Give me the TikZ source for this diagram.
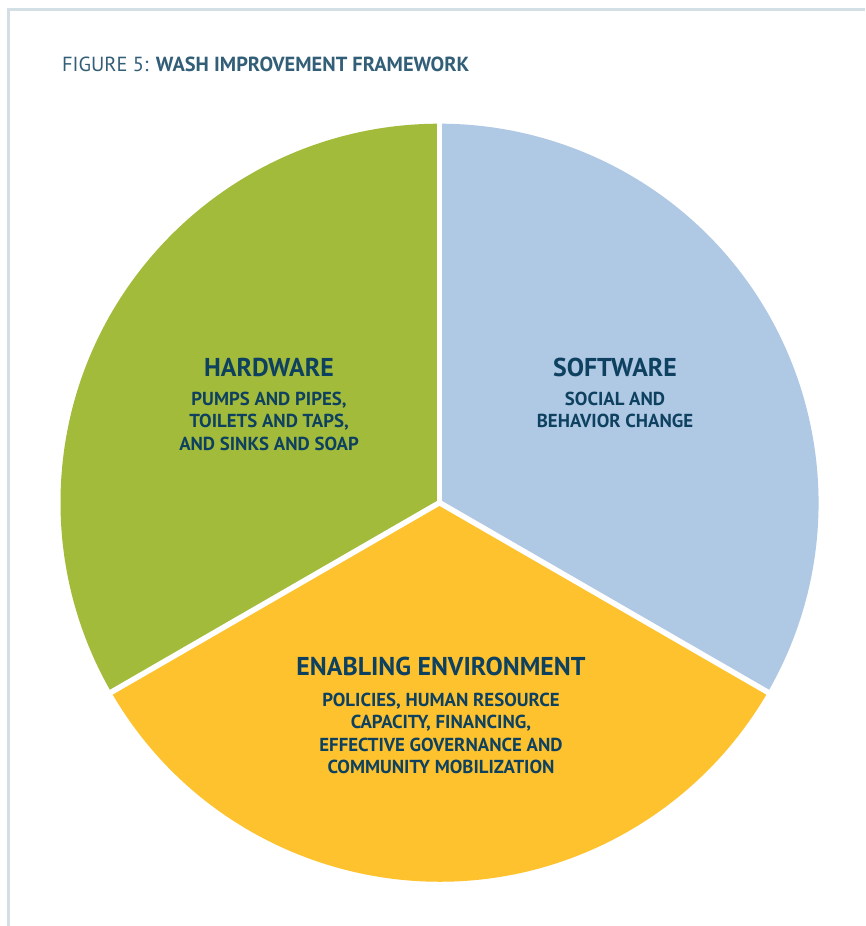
\documentclass[tikz,border=0pt]{standalone}
\usepackage{fontspec}
\setmainfont{PT Sans}
\definecolor{hwgreen}{HTML}{A3BB3A}
\definecolor{swblue}{HTML}{AFC8E4}
\definecolor{enyellow}{HTML}{FDC22D}
\definecolor{txtblue}{HTML}{0E4160}
\definecolor{framegray}{HTML}{D4DFE5}
\begin{document}
\begin{tikzpicture}[x=1pt,y=1pt,
  head/.style={text=txtblue,font={\bfseries\fontsize{25.8}{28}\selectfont},inner sep=0pt},
  sub/.style={text=txtblue,font={\bfseries\fontsize{18.8}{22.3}\selectfont},align=center,inner sep=0pt},
  gap/.style={white,line width=5.5pt}]
\useasboundingbox (0,0) rectangle (865,926);
\fill[white] (0,0) rectangle (865,926);
% frame
\draw[framegray,line width=3pt] (8,0) -- (8,916) -- (865,916);
% title
\node[anchor=base west,inner sep=0pt,text=txtblue!85,font={\fontsize{20.4}{24}\selectfont}] (title) at (62,854)
  {FIGURE 5: \textbf{WASH IMPROVEMENT FRAMEWORK}};
% pie
\coordinate (c) at (439.5,423.3);
\def\R{379}
\fill[hwgreen] (c) -- ++(90:\R) arc[start angle=90,end angle=210,radius=\R] -- cycle;
\fill[enyellow] (c) -- ++(210:\R) arc[start angle=210,end angle=330,radius=\R] -- cycle;
\fill[swblue] (c) -- ++(330:\R) arc[start angle=-30,end angle=90,radius=\R] -- cycle;
\draw[gap] (c) -- ++(90:\R+5) coordinate (g1);
\draw[gap] (c) -- ++(210:\R+5) coordinate (g2);
\draw[gap] (c) -- ++(330:\R+5) coordinate (g3);
% labels
\node[head] (hw) at (269,559) {HARDWARE};
\node[sub,anchor=north] (hwsub) at (269,534) {PUMPS AND PIPES,\\TOILETS AND TAPS,\\AND SINKS AND SOAP};
\node[head] (sw) at (615,559) {SOFTWARE};
\node[sub,anchor=north] (swsub) at (615,534) {SOCIAL AND\\BEHAVIOR CHANGE};
\node[head] (en) at (441,260) {ENABLING ENVIRONMENT};
\node[sub,anchor=north] (ensub) at (441,233) {POLICIES, HUMAN RESOURCE\\CAPACITY, FINANCING,\\EFFECTIVE GOVERNANCE AND\\COMMUNITY MOBILIZATION};
\end{tikzpicture}
\end{document}
